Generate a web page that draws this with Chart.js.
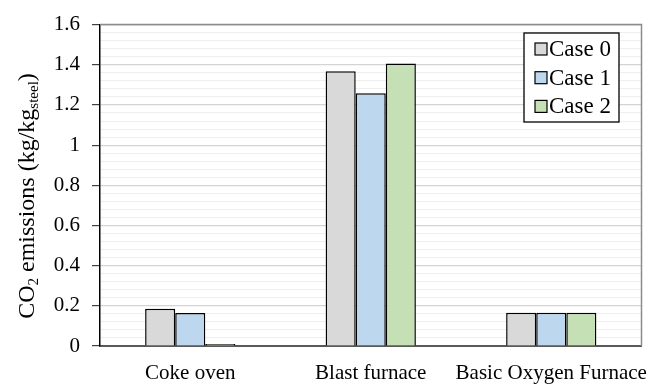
<!DOCTYPE html>
<html>
<head>
<meta charset="utf-8">
<script src="https://cdn.jsdelivr.net/npm/chart.js@4/dist/chart.umd.min.js"></script>
<style>
  html, body { margin: 0; padding: 0; background: #fff; }
  canvas { display: block; }
</style>
</head>
<body>
<canvas id="chart" width="651" height="385"></canvas>
<script>
// values
var categories = ["Coke oven", "Blast furnace", "Basic Oxygen Furnace"];
var caseLabels = ["Case 0", "Case 1", "Case 2"];
var case0 = [0.186, 1.368, 0.166];
var case1 = [0.164, 1.258, 0.166];
var case2 = [0.01, 1.406, 0.166];
var caseColors = ["#d9d9d9", "#bdd7ee", "#c5e0b4"];

var fontFamily = "'Liberation Serif', 'Times New Roman', serif";

function isMajor(v) {
	return Math.abs(v * 5 - Math.round(v * 5)) < 1e-6;
}

// y title with subscripts, drawn by hand
var yTitlePlugin = {
	id: 'yTitle',
	afterDraw: function(chart) {
		var ctx = chart.ctx;
		var parts = [
			{t: "CO", sub: false},
			{t: "2", sub: true},
			{t: " emissions (kg/kg", sub: false},
			{t: "steel", sub: true},
			{t: ")", sub: false}
		];
		var big = "24px " + fontFamily, small = "15px " + fontFamily;
		var w = 0;
		parts.forEach(function(p) {
			ctx.font = p.sub ? small : big;
			p.w = ctx.measureText(p.t).width;
			w += p.w;
		});
		ctx.save();
		ctx.translate(27, 196);
		ctx.rotate(-Math.PI / 2);
		ctx.fillStyle = '#000';
		ctx.textBaseline = 'alphabetic';
		var x = -w / 2;
		parts.forEach(function(p) {
			ctx.font = p.sub ? small : big;
			ctx.fillText(p.t, x, p.sub ? 11 : 7);
			x += p.w;
		});
		ctx.restore();
	}
};

// plot border (top/right) and the boxed legend
var framePlugin = {
	id: 'frame',
	afterDraw: function(chart) {
		var ctx = chart.ctx, a = chart.chartArea;
		ctx.save();
		ctx.strokeStyle = '#8c8c8c';
		ctx.lineWidth = 1.5;
		ctx.beginPath();
		ctx.moveTo(a.left, a.top);
		ctx.lineTo(a.right, a.top);
		ctx.lineTo(a.right, a.bottom);
		ctx.stroke();

		// legend
		var lx = 524, ly = 33, lw = 95, lh = 89;
		ctx.fillStyle = '#fff';
		ctx.fillRect(lx, ly, lw, lh);
		ctx.strokeStyle = '#000';
		ctx.lineWidth = 1.3;
		ctx.strokeRect(lx, ly, lw, lh);
		ctx.font = "23px " + fontFamily;
		ctx.textBaseline = 'middle';
		chart.data.datasets.forEach(function(ds, i) {
			var cy = 49 + i * 28.7;
			ctx.fillStyle = ds.backgroundColor;
			ctx.fillRect(535, cy - 6, 12, 12);
			ctx.strokeStyle = '#000';
			ctx.lineWidth = 1.2;
			ctx.strokeRect(535, cy - 6, 12, 12);
			ctx.fillStyle = '#000';
			ctx.fillText(ds.label, 549, cy + 1);
		});
		ctx.restore();
	}
};

var datasets = [case0, case1, case2].map(function(vals, i) {
	return {
		label: caseLabels[i],
		data: vals,
		backgroundColor: caseColors[i],
		borderColor: '#000',
		borderWidth: 1.5,
		categoryPercentage: 0.5,
		barPercentage: 1.0
	};
});

var ctx = document.getElementById("chart").getContext("2d");
var chart = new Chart(ctx, {
	type: 'bar',
	data: {labels: categories, datasets: datasets},
	plugins: [yTitlePlugin, framePlugin],
	options: {
		responsive: false,
		animation: false,
		layout: {padding: {top: 22, right: 9.5, left: 0, bottom: 0}},
		plugins: {legend: {display: false}, tooltip: {enabled: false}},
		scales: {
			x: {
				grid: {display: false, drawTicks: false},
				border: {color: '#595959', width: 2},
				ticks: {
					color: '#000',
					padding: 15,
					autoSkip: false,
					maxRotation: 0,
					minRotation: 0,
					font: {family: fontFamily, size: 21}
				},
				afterFit: function(s) {
					s.height = 39;
					// let the last label run past the plot edge, as in the original
					s.paddingLeft = 0;
					s.paddingRight = 0;
				}
			},
			y: {
				min: 0,
				max: 1.6,
				border: {color: '#000', width: 1.5},
				grid: {
					tickLength: 8,
					color: function(c) {
						var v = c.tick ? c.tick.value : 0;
						if (Math.abs(v - 1.6) < 1e-6) return '#8c8c8c';
						return isMajor(v) ? '#d4d4d4' : '#eeeeee';
					},
					lineWidth: function(c) {
						var v = c.tick ? c.tick.value : 0;
						return isMajor(v) ? 1.2 : 1;
					},
					tickColor: function(c) {
						var v = c.tick ? c.tick.value : 0;
						return isMajor(v) ? '#404040' : 'rgba(0,0,0,0)';
					}
				},
				ticks: {
					stepSize: 0.04,
					autoSkip: false,
					color: '#000',
					padding: 12,
					font: {family: fontFamily, size: 21},
					callback: function(v) {
						if (!isMajor(v)) return '';
						return String(Math.round(v * 10) / 10);
					}
				},
				afterFit: function(s) { s.width = 100; }
			}
		}
	}
});
</script>
</body>
</html>
